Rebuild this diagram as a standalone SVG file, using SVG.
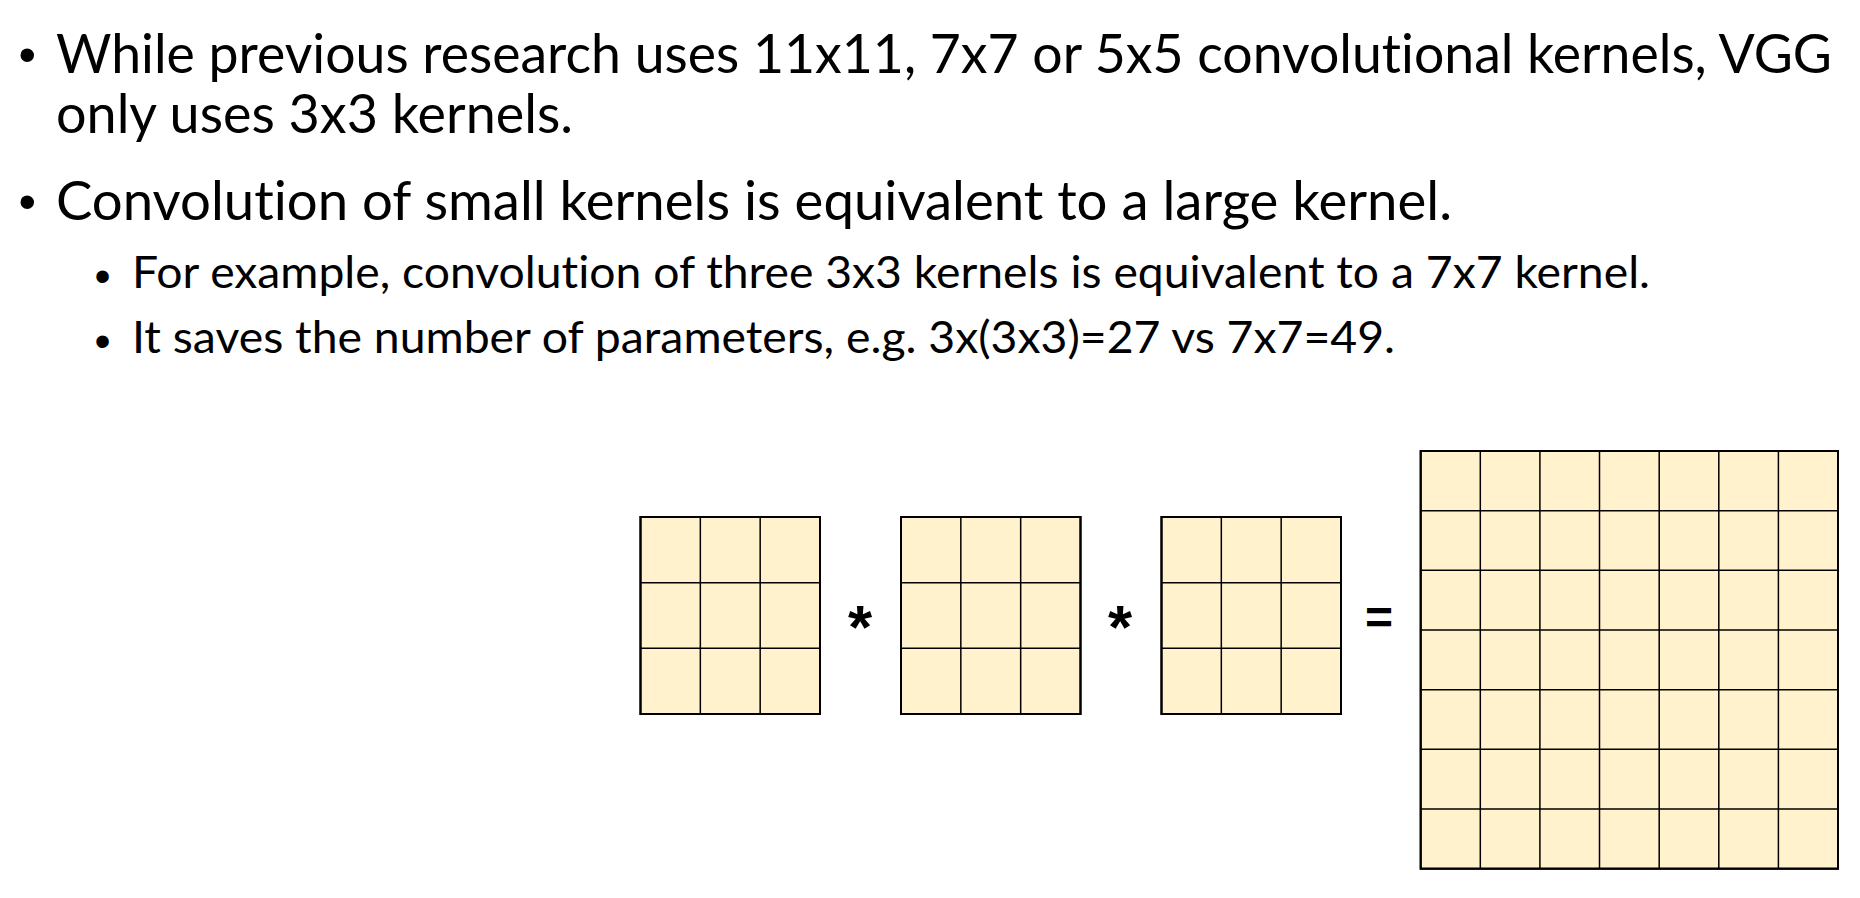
<svg xmlns="http://www.w3.org/2000/svg" width="1860" height="898" viewBox="0 0 1860 898">
<style>
  .t1 { font-family: Lato, "Liberation Sans", sans-serif; font-size: 54px; fill: #000; font-variant-ligatures: none; }
  .t2 { font-family: Lato, "Liberation Sans", sans-serif; font-size: 45px; fill: #000; font-variant-ligatures: none; }
  .b1 { font-family: "Liberation Sans", Arial, sans-serif; font-size: 50px; fill: #000; }
  .b2 { font-family: "Liberation Sans", Arial, sans-serif; font-size: 46px; fill: #000; }
  .op { font-family: "Liberation Sans", Arial, sans-serif; font-weight: bold; fill: #000; text-anchor: middle; }
  .cellbg { fill: #FFF2CC; stroke: #000; stroke-width: 2; }
  .grid { stroke: #000; stroke-width: 1.5; fill: none; }
</style>
<rect x="0" y="0" width="1860" height="898" fill="#ffffff"/>

<g id="text">
  <text class="b1" x="18.5" y="72">•</text>
  <text class="t1" x="56" y="72.5" textLength="1776" lengthAdjust="spacingAndGlyphs">While previous research uses 11x11, 7x7 or 5x5 convolutional kernels, VGG</text>
  <text class="t1" x="56" y="132.7" textLength="517" lengthAdjust="spacingAndGlyphs">only uses 3x3 kernels.</text>
  <text class="b1" x="18.5" y="219">•</text>
  <text class="t1" x="56" y="220" textLength="1396" lengthAdjust="spacingAndGlyphs">Convolution of small kernels is equivalent to a large kernel.</text>
  <text class="b2" x="94.4" y="292">•</text>
  <text class="t2" x="132" y="287.7" textLength="1518" lengthAdjust="spacingAndGlyphs">For example, convolution of three 3x3 kernels is equivalent to a 7x7 kernel.</text>
  <text class="b2" x="94.4" y="357">•</text>
  <text class="t2" x="132" y="352.7" textLength="1263" lengthAdjust="spacingAndGlyphs">It saves the number of parameters, e.g. 3x(3x3)=27 vs 7x7=49.</text>
</g>

<g id="kernel1">
  <rect class="cellbg" x="640.5" y="517" width="179.5" height="197"/>
  <path class="grid" d="M700.33 517V714M760.17 517V714M640.5 582.67H820M640.5 648.33H820"/>
  <rect x="640.5" y="517" width="179.5" height="197" fill="none" stroke="#000" stroke-width="2"/>
</g>

<g id="kernel2">
  <rect class="cellbg" x="901" y="517" width="179.5" height="197"/>
  <path class="grid" d="M960.83 517V714M1020.67 517V714M901 582.67H1080.5M901 648.33H1080.5"/>
  <rect x="901" y="517" width="179.5" height="197" fill="none" stroke="#000" stroke-width="2"/>
</g>

<g id="kernel3">
  <rect class="cellbg" x="1161.5" y="517" width="179.5" height="197"/>
  <path class="grid" d="M1221.33 517V714M1281.17 517V714M1161.5 582.67H1341M1161.5 648.33H1341"/>
  <rect x="1161.5" y="517" width="179.5" height="197" fill="none" stroke="#000" stroke-width="2"/>
</g>

<g id="kernel7x7">
  <rect class="cellbg" x="1420.7" y="451" width="417.3" height="417.7"/>
  <path class="grid" d="M1480.3 451V868.7M1539.9 451V868.7M1599.5 451V868.7M1659.2 451V868.7M1718.8 451V868.7M1778.4 451V868.7M1420.7 510.7H1838M1420.7 570.3H1838M1420.7 630H1838M1420.7 689.7H1838M1420.7 749.3H1838M1420.7 809H1838"/>
  <rect x="1420.7" y="451" width="417.3" height="417.7" fill="none" stroke="#000" stroke-width="2"/>
</g>

<g id="operators">
  <text class="op" x="860" y="648" font-size="62">*</text>
  <text class="op" x="1120" y="648" font-size="62">*</text>
  <text class="op" x="1379" y="634" font-size="48">=</text>
</g>
</svg>
